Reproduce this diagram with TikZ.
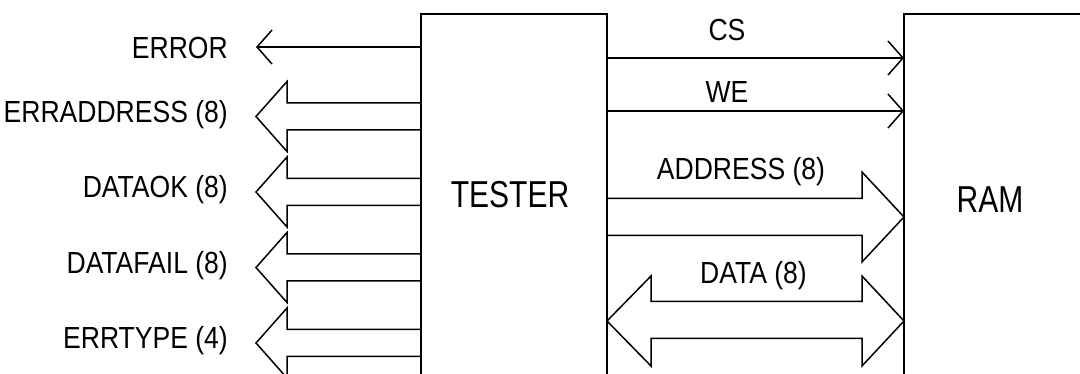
\documentclass[tikz,border=0pt]{standalone}
\usepackage{fontspec}
\setmainfont{Liberation Sans}[FakeStretch=0.87]
\newfontfamily\blockfont{Liberation Sans}[FakeStretch=0.8]
\usetikzlibrary{arrows.meta}

\tikzset{
  wire/.style={line width=1.5pt, line join=miter, black},
  blockbox/.style={draw, line width=1.5pt, outer sep=0pt, inner sep=0pt, anchor=north west},
  sig/.style={wire, -{Straight Barb[length=15pt, width=34pt, line width=1.5pt]}},
  lbl/.style={inner sep=0pt, font=\fontsize{30.5}{36}\selectfont},
  blocklbl/.style={inner sep=0pt, font=\blockfont\fontsize{37.5}{44}\selectfont},
}

% bus leaving the tester towards the left: name, centre y, label
\newcommand{\leftbus}[3]{%
  \coordinate (#1) at (256,#2);
  \draw[wire] (tester.west |- 0,#2-13.5) -- (287,#2-13.5) -- (287,#2-35)
    -- (#1) -- (287,#2+35) -- (287,#2+13.5) -- (tester.west |- 0,#2+13.5);
  \node[lbl, anchor=east] (#1-lbl) at (228,#2-2) {#3};
}

\begin{document}
\begin{tikzpicture}[x=1pt, y=-1pt]
  \path[use as bounding box, clip] (0,0) rectangle (1080,374);

  % blocks (both run past the lower edge; RAM also past the right edge)
  \node[blockbox, minimum width=186pt, minimum height=362pt] (tester) at (421,14) {};
  \node[blocklbl] (tester-lbl) at (510,195) {TESTER};
  \node[blockbox, minimum width=240pt, minimum height=400pt] (ram) at (904,14) {};
  \node[blocklbl] (ram-lbl) at (990,200) {RAM};

  % single error line
  \coordinate (error) at (256,47);
  \draw[sig] (tester.west |- error) -- (error);
  \node[lbl, anchor=east] (error-lbl) at (228,48) {ERROR};

  % error buses
  \leftbus{erraddr}{116.5}{ERRADDRESS (8)}
  \leftbus{dataok}{192}{DATAOK (8)}
  \leftbus{datafail}{267.5}{DATAFAIL (8)}
  \leftbus{errtype}{343}{ERRTYPE (4)}

  % control lines to the RAM
  \draw[sig] (tester.east |- 0,58) -- (ram.west |- 0,58);
  \node[lbl] (cs-lbl) at (727,30) {CS};
  \draw[sig] (tester.east |- 0,111) -- (ram.west |- 0,111);
  \node[lbl] (we-lbl) at (727,92) {WE};

  % address bus
  \coordinate (addr) at (ram.west |- 0,217);
  \draw[wire] (tester.east |- 0,198.5) -- (862,198.5) -- (862,172) -- (addr)
    -- (862,262) -- (862,235.5) -- (tester.east |- 0,235.5);
  \node[lbl] (addr-lbl) at (741,172) {ADDRESS (8)};

  % bidirectional data bus
  \coordinate (data-r) at (ram.west |- 0,321);
  \coordinate (data-l) at (tester.east |- 0,321);
  \draw[wire] (651,301.5) -- (862,301.5) -- (862,276) -- (data-r) -- (862,366)
    -- (862,338.5) -- (651,338.5) -- (651,366) -- (data-l) -- (651,276) -- cycle;
  \node[lbl] (data-lbl) at (753.5,276) {DATA (8)};
\end{tikzpicture}
\end{document}
